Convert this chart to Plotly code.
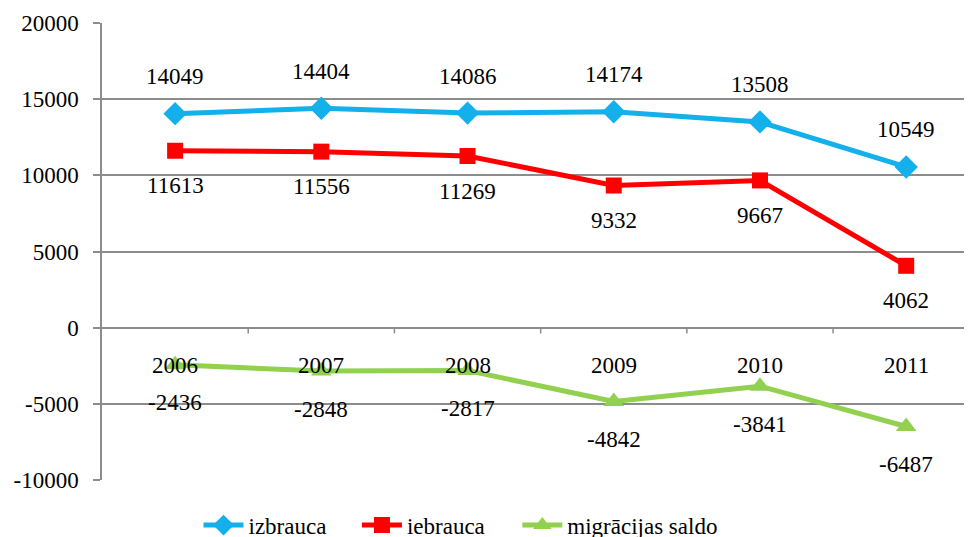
import plotly.graph_objects as go

years = ["2006", "2007", "2008", "2009", "2010", "2011"]
izbrauca = [14049, 14404, 14086, 14174, 13508, 10549]
iebrauca = [11613, 11556, 11269, 9332, 9667, 4062]
saldo = [-2436, -2848, -2817, -4842, -3841, -6487]
y_ticks = [-10000, -5000, 0, 5000, 10000, 15000, 20000]
y_tick_text = ["-10000", "-5000", "0", "5000", "10000", "15000", "20000"]

FONT = "Liberation Serif"
FS = 23
BLUE = "#13B0EC"
RED = "#FF0000"
GREEN = "#92D050"

xs = list(range(len(years)))
fig = go.Figure()
fig.add_trace(go.Scatter(x=xs, y=izbrauca, name="izbrauca", mode="lines+markers",
                         line=dict(color=BLUE, width=5), legend="legend",
                         marker=dict(symbol="diamond", size=18, color=BLUE)))
fig.add_trace(go.Scatter(x=xs, y=iebrauca, name="iebrauca", mode="lines+markers",
                         line=dict(color=RED, width=5), legend="legend2",
                         marker=dict(symbol="square", size=16, color=RED)))
fig.add_trace(go.Scatter(x=xs, y=saldo, name="migrācijas saldo", mode="lines+markers",
                         line=dict(color=GREEN, width=5), legend="legend3",
                         marker=dict(symbol="triangle-up", size=18, color=GREEN)))

ann = []
for i in xs:
    ann.append(dict(x=i, y=izbrauca[i], text=str(izbrauca[i]), yshift=37, showarrow=False))
    ann.append(dict(x=i, y=iebrauca[i], text=str(iebrauca[i]), yshift=-35, showarrow=False))
    ann.append(dict(x=i, y=saldo[i], text=str(saldo[i]), yshift=-38, showarrow=False))
    ann.append(dict(x=i, y=0, text=years[i], yshift=-38, showarrow=False))
for a in ann:
    a.update(xref="x", yref="y", font=dict(family=FONT, size=FS, color="black"))

shapes = []
for b in [0.5, 1.5, 2.5, 3.5, 4.5]:
    shapes.append(dict(type="line", xref="x", yref="y", x0=b, x1=b, y0=0, y1=-380,
                       line=dict(color="#8c8c8c", width=1.5), layer="below"))


def leg(x):
    return dict(orientation="h", xref="container", yref="container",
                x=x, xanchor="left", y=0.077, yanchor="top",
                font=dict(family=FONT, size=FS, color="black"),
                itemwidth=40, bgcolor="rgba(0,0,0,0)")


fig.update_layout(
    width=972, height=537,
    margin=dict(l=94, r=8, t=15, b=65, autoexpand=False),
    plot_bgcolor="white", paper_bgcolor="white",
    font=dict(family=FONT, size=FS, color="black"),
    showlegend=True,
    legend=leg(0.196),
    legend2=leg(0.359),
    legend3=leg(0.524),
    annotations=ann,
    shapes=shapes,
)
fig.update_xaxes(range=[-0.5, 5.45], showticklabels=False, showgrid=False,
                 zeroline=False, showline=False, ticks="")
fig.update_yaxes(range=[-10000, 20000], tickvals=y_ticks, ticktext=y_tick_text,
                 showgrid=True,
                 gridcolor="#8c8c8c", gridwidth=1.5, zeroline=False,
                 showline=True, linecolor="#8c8c8c", linewidth=1.5,
                 ticks="outside", ticklen=7, tickcolor="#8c8c8c", tickwidth=1.5,
                 tickfont=dict(family=FONT, size=FS, color="black"), ticklabelstandoff=10)
fig.write_html("out.html")
